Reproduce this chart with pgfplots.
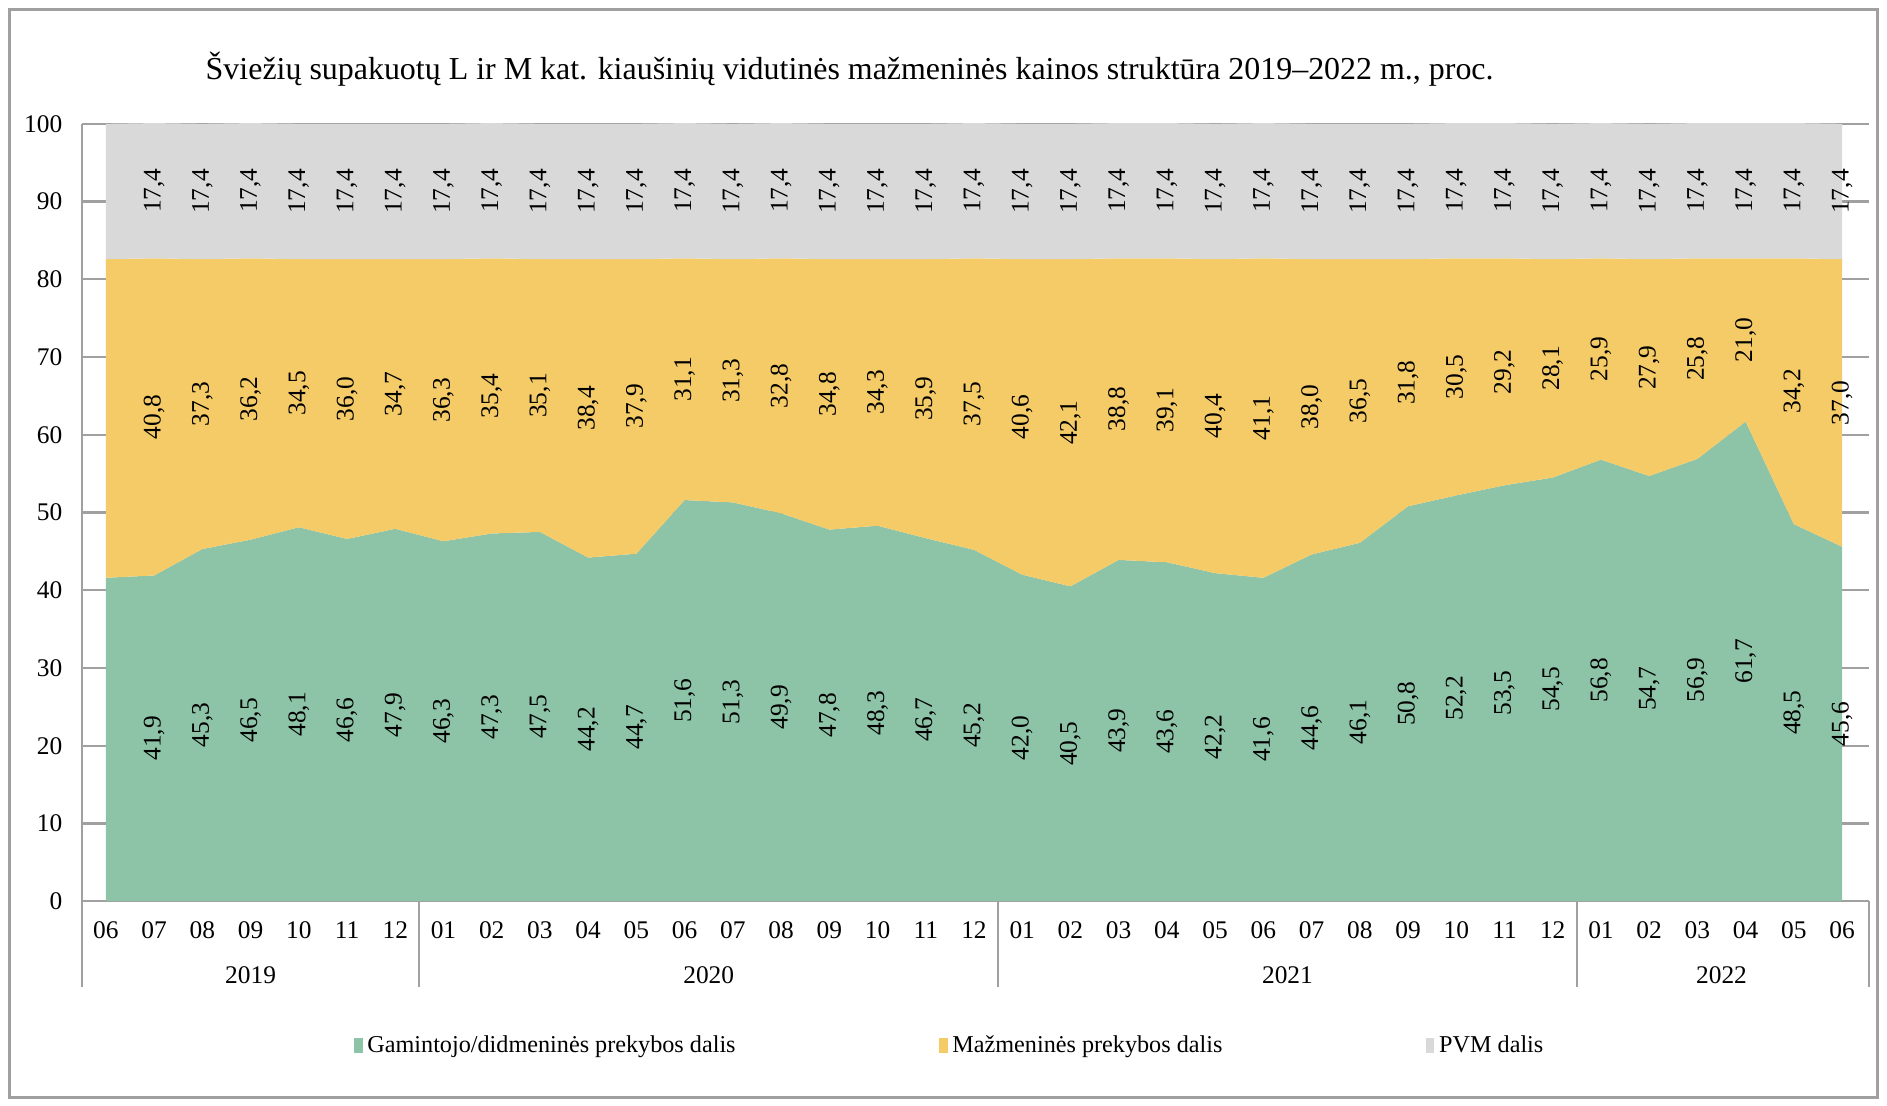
\documentclass[border=0pt]{standalone}
\usepackage{pgfplots}
\usepackage{pgfplotstable}
\pgfplotsset{compat=1.18}
\usepackage{fontspec}
\setmainfont{Liberation Serif}

\definecolor{cgreen}{HTML}{8DC3A7}
\definecolor{cyellow}{HTML}{F4CB66}
\definecolor{cgray}{HTML}{D9D9D9}
\definecolor{linegray}{HTML}{A0A0A0}

% month, producer/wholesale share, retail share, VAT share
\pgfplotstableread{
x g r v
0 41.6 41.0 17.4
1 41.9 40.8 17.4
2 45.3 37.3 17.4
3 46.5 36.2 17.4
4 48.1 34.5 17.4
5 46.6 36.0 17.4
6 47.9 34.7 17.4
7 46.3 36.3 17.4
8 47.3 35.4 17.4
9 47.5 35.1 17.4
10 44.2 38.4 17.4
11 44.7 37.9 17.4
12 51.6 31.1 17.4
13 51.3 31.3 17.4
14 49.9 32.8 17.4
15 47.8 34.8 17.4
16 48.3 34.3 17.4
17 46.7 35.9 17.4
18 45.2 37.5 17.4
19 42.0 40.6 17.4
20 40.5 42.1 17.4
21 43.9 38.8 17.4
22 43.6 39.1 17.4
23 42.2 40.4 17.4
24 41.6 41.1 17.4
25 44.6 38.0 17.4
26 46.1 36.5 17.4
27 50.8 31.8 17.4
28 52.2 30.5 17.4
29 53.5 29.2 17.4
30 54.5 28.1 17.4
31 56.8 25.9 17.4
32 54.7 27.9 17.4
33 56.9 25.8 17.4
34 61.7 21.0 17.4
35 48.5 34.2 17.4
36 45.6 37.0 17.4
}\eggdata

\newcommand{\lblfont}{\fontsize{10.5}{12}\selectfont}

\begin{document}
\begin{tikzpicture}
\path (0pt,0pt) rectangle (780pt,457.1pt);
\draw[linegray,line width=1pt] (4pt,3.5pt) rectangle (776pt,453.1pt);
\node[font=\fontsize{13.2}{16}\selectfont] at (351.2pt,428.3pt) {Šviežių supakuotų L ir M kat. kiaušinių vidutinės mažmeninės kainos struktūra 2019–2022 m., proc.};

\begin{axis}[
    at={(33.8pt,84.6pt)}, anchor=south west,
    width=738.6pt, height=321.3pt, scale only axis,
    xmin=-0.5, xmax=36.55,
    ymin=0, ymax=100,
    ytick={0,10,...,100},
    xtick={0,1,...,36},
    xticklabels={06,07,08,09,10,11,12,01,02,03,04,05,06,07,08,09,10,11,12,01,02,03,04,05,06,07,08,09,10,11,12,01,02,03,04,05,06},
    /pgf/number format/assume math mode=true,
    tick label style={font=\lblfont},
    yticklabel style={xshift=-4.5pt},
    xticklabel style={yshift=-5pt},
    major tick length=0pt,
    axis x line*=bottom, axis y line*=left,
    axis line style={linegray, line width=0.9pt, -},
    ymajorgrids,
    grid style={linegray, line width=0.9pt},
    clip=false,
    legend style={at={(0.4865,-0.186)}, anchor=center, draw=none,
        font=\fontsize{10}{12}\selectfont,
        legend columns=3,
        /tikz/every even column/.append style={column sep=82pt}},
    legend cell align=left,
    legend image code/.code={\fill[#1,draw=none] (0pt,-3pt) rectangle (3.6pt,3pt);},
    every node near coord/.append style={rotate=90, anchor=center, font=\lblfont, text=black},
]
\addplot[stack plots=y, fill=cgreen, draw=none] table[x=x, y=g] {\eggdata} \closedcycle;
\addlegendentry{Gamintojo/didmeninės prekybos dalis}
\addplot[stack plots=y, fill=cyellow, draw=none] table[x=x, y=r] {\eggdata} \closedcycle;
\addlegendentry{Mažmeninės prekybos dalis}
\addplot[stack plots=y, fill=cgray, draw=none] table[x=x, y=v] {\eggdata} \closedcycle;
\addlegendentry{PVM dalis}

% value labels, centred in each band
\addplot[draw=none, mark=none, forget plot, restrict x to domain=1:36,
    point meta=explicit,
    nodes near coords={\pgfmathprintnumber[use comma,fixed,fixed zerofill,precision=1,assume math mode=true]{\pgfplotspointmeta}}]
    table[x=x, y expr=\thisrow{g}/2, meta=g] {\eggdata};
\addplot[draw=none, mark=none, forget plot, restrict x to domain=1:36,
    point meta=explicit,
    nodes near coords={\pgfmathprintnumber[use comma,fixed,fixed zerofill,precision=1,assume math mode=true]{\pgfplotspointmeta}}]
    table[x=x, y expr=\thisrow{g}+\thisrow{r}/2, meta=r] {\eggdata};
\addplot[draw=none, mark=none, forget plot, restrict x to domain=1:36,
    point meta=explicit,
    nodes near coords={\pgfmathprintnumber[use comma,fixed,fixed zerofill,precision=1,assume math mode=true]{\pgfplotspointmeta}}]
    table[x=x, y expr=\thisrow{g}+\thisrow{r}+\thisrow{v}/2, meta=v] {\eggdata};

% year groups
\draw[linegray, line width=0.9pt] (axis cs:-0.5,0) -- ++(0pt,-35.5pt);
\draw[linegray, line width=0.9pt] (axis cs:6.5,0) -- ++(0pt,-35.5pt);
\draw[linegray, line width=0.9pt] (axis cs:18.5,0) -- ++(0pt,-35.5pt);
\draw[linegray, line width=0.9pt] (axis cs:30.5,0) -- ++(0pt,-35.5pt);
\draw[linegray, line width=0.9pt] (axis cs:36.55,0) -- ++(0pt,-35.5pt);
\node[font=\lblfont] at (axis cs:3,0) [yshift=-30.5pt] {2019};
\node[font=\lblfont] at (axis cs:12.5,0) [yshift=-30.5pt] {2020};
\node[font=\lblfont] at (axis cs:24.5,0) [yshift=-30.5pt] {2021};
\node[font=\lblfont] at (axis cs:33.5,0) [yshift=-30.5pt] {2022};
\end{axis}
\end{tikzpicture}
\end{document}
